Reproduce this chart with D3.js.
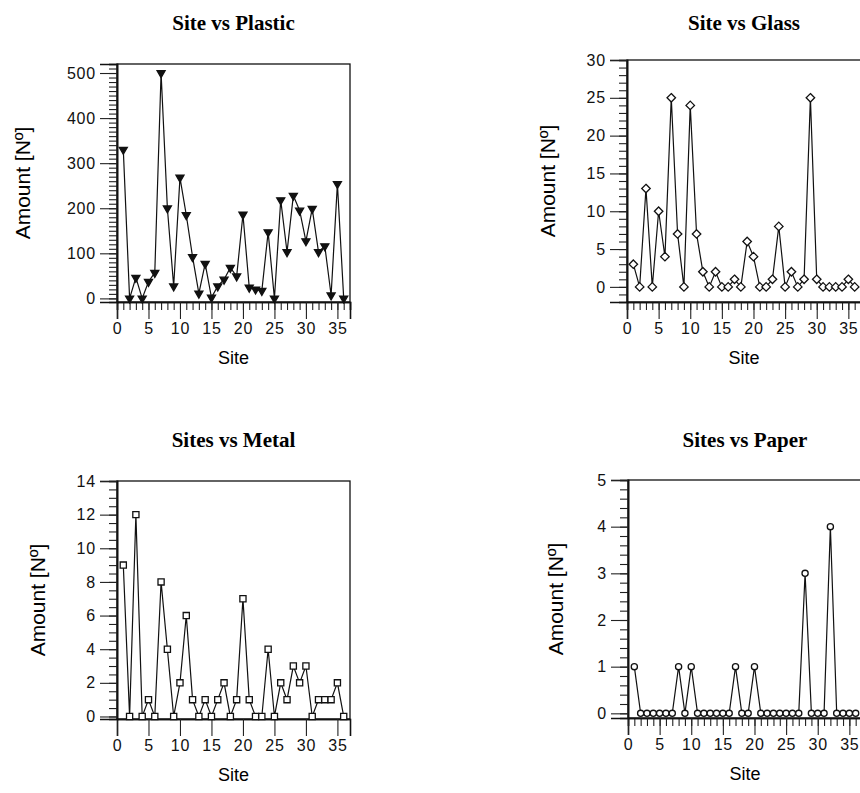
<!DOCTYPE html>
<html>
<head>
<meta charset="utf-8">
<script src="https://cdn.jsdelivr.net/npm/d3@7"></script>
<style>
body { margin: 0; background: #fff; }
svg { display: block; }
</style>
</head>
<body>
<svg id="svg1" width="860" height="793"></svg>
<script>
// site numbers along the x axis
var sites = [1,2,3,4,5,6,7,8,9,10,11,12,13,14,15,16,17,18,19,20,21,22,23,24,25,26,27,28,29,30,31,32,33,34,35,36];

// amounts
var plastic = [330,0,46,0,37,57,500,200,27,268,185,92,11,77,2,27,42,68,49,186,24,20,17,147,0,218,103,228,195,127,199,103,116,7,254,0];
var glass = [3,0,13,0,10,4,25,7,0,24,7,2,0,2,0,0,1,0,6,4,0,0,1,8,0,2,0,1,25,1,0,0,0,0,1,0];
var metal = [9,0,12,0,1,0,8,4,0,2,6,1,0,1,0,1,2,0,1,7,1,0,0,4,0,2,1,3,2,3,0,1,1,1,2,0];
var paper = [1,0,0,0,0,0,0,1,0,1,0,0,0,0,0,0,1,0,0,1,0,0,0,0,0,0,0,3,0,0,0,4,0,0,0,0];

// tick labels
var siteTicks = [0,5,10,15,20,25,30,35];
var plasticTicks = [0,100,200,300,400,500];
var glassTicks = [0,5,10,15,20,25,30];
var metalTicks = [0,2,4,6,8,10,12,14];
var paperTicks = [0,1,2,3,4,5];

var svg = d3.select('#svg1');

var tickFont = '"Liberation Sans", Arial, sans-serif';
var titleFont = '"Liberation Serif", "Times New Roman", serif';

// a square turned 45deg, looks closer to the glass markers than symbolDiamond
var roundDiamond = {
    draw: function(context, size) {
        var r = Math.sqrt(size / 2);
        context.moveTo(0, -r);
        context.lineTo(r, 0);
        context.lineTo(0, r);
        context.lineTo(-r, 0);
        context.closePath();
    }
};

function drawPanel(p) {
    var x = d3.scaleLinear().domain([0, 37]).range([p.left, p.right]);
    var y = d3.scaleLinear().domain(p.yDomain).range([p.bottom, p.top]);

    var g = svg.append('g');

    // box round the plot
    g.append('rect')
        .attr('x', p.left).attr('y', p.top)
        .attr('width', p.right - p.left).attr('height', p.bottom - p.top)
        .attr('fill', 'none').attr('stroke', '#111').attr('stroke-width', 1.3);

    // minor ticks first, then major ones with labels
    var xMinor = d3.axisBottom(x).tickValues(d3.range(0, 38, 1)).tickSize(p.xMinor ? 8 : 0).tickFormat('');
    g.append('g').attr('transform', 'translate(0,' + p.bottom + ')').call(xMinor);
    var xMajor = d3.axisBottom(x).tickValues(siteTicks).tickSize(17).tickPadding(4).tickFormat(d3.format('d'));
    g.append('g').attr('transform', 'translate(0,' + p.bottom + ')').call(xMajor);

    var yMinor = d3.axisLeft(y).tickValues(p.yMinor).tickSize(8).tickFormat('');
    g.append('g').attr('transform', 'translate(' + p.left + ',0)').call(yMinor);
    var yMajor = d3.axisLeft(y).tickValues(p.yTicks).tickSize(17).tickPadding(4).tickFormat(d3.format('d'));
    g.append('g').attr('transform', 'translate(' + p.left + ',0)').call(yMajor);

    g.selectAll('.domain').attr('stroke', '#111').attr('stroke-width', 1.6);
    g.selectAll('.tick line').attr('stroke', '#222').attr('stroke-width', 1.1);
    g.selectAll('.tick text')
        .attr('font-family', tickFont).attr('font-size', 16)
        .attr('letter-spacing', 0.8).attr('fill', '#111');

    // the line through all the sites
    var line = d3.line()
        .x(function(d, i){ return x(sites[i]); })
        .y(function(d){ return y(d); });
    g.append('path')
        .datum(p.values)
        .attr('d', line)
        .attr('fill', 'none')
        .attr('stroke', '#111')
        .attr('stroke-width', 1.2);

    // markers
    g.selectAll('.mk')
        .data(p.values)
        .enter()
        .append('path')
        .attr('class', 'mk')
        .attr('d', d3.symbol().type(p.symbol).size(p.symbolSize))
        .attr('transform', function(d, i){
            return 'translate(' + x(sites[i]) + ',' + y(d) + ')' + (p.flip ? ' rotate(180)' : '');
        })
        .attr('fill', p.filled ? '#111' : '#fff')
        .attr('stroke', '#111')
        .attr('stroke-width', 1.3);

    // title
    svg.append('text')
        .attr('x', (p.left + p.right) / 2)
        .attr('y', p.titleY)
        .attr('text-anchor', 'middle')
        .attr('font-family', titleFont)
        .attr('font-weight', 'bold')
        .attr('font-size', 21)
        .text(p.title);

    // axis titles
    svg.append('text')
        .attr('x', (p.left + p.right) / 2)
        .attr('y', p.bottom + 62)
        .attr('text-anchor', 'middle')
        .attr('font-family', tickFont)
        .attr('font-size', 18)
        .text('Site');

    svg.append('text')
        .attr('transform', 'translate(' + p.yLabelX + ',' + ((p.top + p.bottom) / 2) + ') rotate(-90)')
        .attr('text-anchor', 'middle')
        .attr('font-family', tickFont)
        .attr('font-size', 21)
        .text('Amount [Nº]');
}

drawPanel({
    title: 'Site vs Plastic', titleY: 30,
    left: 117, right: 350, top: 64, bottom: 302,
    yDomain: [-8, 520], yTicks: plasticTicks, yMinor: d3.range(0, 521, 10),
    xMinor: true, values: plastic,
    symbol: d3.symbolTriangle, symbolSize: 28, flip: true, filled: true,
    yLabelX: 30
});

drawPanel({
    title: 'Site vs Glass', titleY: 30,
    left: 627, right: 861, top: 60, bottom: 302,
    yDomain: [-2, 30], yTicks: glassTicks, yMinor: d3.range(-2, 31, 1),
    xMinor: true, values: glass,
    symbol: roundDiamond, symbolSize: 36, flip: false, filled: false,
    yLabelX: 555
});

drawPanel({
    title: 'Sites vs Metal', titleY: 447,
    left: 117, right: 350, top: 481, bottom: 719,
    yDomain: [-0.15, 14], yTicks: metalTicks, yMinor: d3.range(0, 14.01, 0.5),
    xMinor: false, values: metal,
    symbol: d3.symbolSquare, symbolSize: 38, flip: false, filled: false,
    yLabelX: 45
});

drawPanel({
    title: 'Sites vs Paper', titleY: 447,
    left: 628, right: 862, top: 480, bottom: 718,
    yDomain: [-0.1, 5], yTicks: paperTicks, yMinor: d3.range(0, 5.01, 0.2),
    xMinor: true, values: paper,
    symbol: d3.symbolCircle, symbolSize: 30, flip: false, filled: false,
    yLabelX: 563
});
</script>
</body>
</html>
